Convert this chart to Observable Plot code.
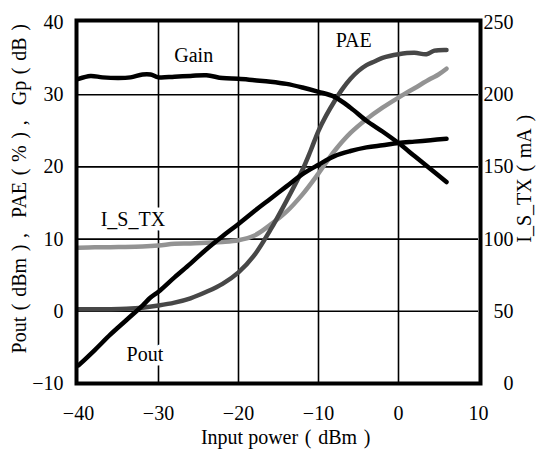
<!DOCTYPE html>
<html><head><meta charset="utf-8">
<script src="https://cdn.jsdelivr.net/npm/d3@7"></script>
<script src="https://cdn.jsdelivr.net/npm/@observablehq/plot@0.6"></script>
<style>
body{margin:0;background:#fff}
svg, svg text {font-family: "Liberation Serif", "Times New Roman", serif !important;}
</style>
</head><body><div id="chart"></div>
<script>
// ---- data ----
const xTicks = [-40, -30, -20, -10, 0, 10];
const leftTicks = [-10, 0, 10, 20, 30, 40];
const rightTicks = [0, 50, 100, 150, 200, 250];

const gainX = [-40,-38.5,-37,-35,-33.5,-32,-31,-30,-28,-26,-24,-22,-20,-18,-16,-14,-12,-10,-8,-6,-4,-2,0,2,4,6];
const gainDb = [32.2,32.6,32.4,32.3,32.4,32.8,32.8,32.4,32.5,32.6,32.7,32.3,32.2,32.0,31.8,31.5,31.0,30.4,29.7,28.2,26.4,24.9,23.3,21.5,19.7,17.9];

const poutX = [-40,-38,-36,-34,-32,-31,-30,-28,-26,-24,-22,-20,-18,-16,-14,-12,-10,-8,-6,-4,-2,0,2,4,6];
const poutDbm = [-7.5,-5.4,-3.2,-1.2,0.8,1.9,2.7,4.7,6.6,8.6,10.4,12.1,13.9,15.6,17.3,19.0,20.3,21.5,22.2,22.7,23.0,23.3,23.5,23.7,23.9];

const paeX = [-40,-36,-34,-32,-30,-28,-26,-24,-22,-20,-18,-16,-14,-12,-11,-10,-9,-8,-7,-6,-5,-4,-3,-2,0,2,3.5,4.5,6];
const paePct = [0.3,0.3,0.35,0.5,0.8,1.2,1.8,2.7,3.8,5.4,7.8,11.3,15.3,19.6,22.2,25.0,27.2,29.1,30.8,32.2,33.3,34.1,34.6,35.1,35.6,35.8,35.6,36.1,36.2];

const istxX = [-40,-38,-35,-32,-30,-28,-26,-24,-22,-20,-18,-16,-14,-12,-10,-8,-6,-4,-2,0,2,4,5,6];
const istxMa = [94,94.3,94.5,94.8,95.5,96.8,97,97.5,98,99.2,102.5,110,119,131,145.5,161,173.5,183,191,198,204.5,211,214,218];

const seriesLabels = ["Gain", "PAE", "I_S_TX", "Pout"];
const labelX = [-25.6, -5.6, -33.2, -31.7];
const labelY = [35.4, 37.5, 12.75, -5.95];

// right axis (mA) mapped onto left axis units
const toLeft = mA => mA / 5 - 10;
const toRight = v => (v + 10) * 5;

const S = "\u2004";
const P = t => S + "(" + S + t + S + ")" + S;
const xTitle = "Input power" + P("dBm");
const yTitle = "Pout" + P("dBm") + ",\u2002\u00a0" + "PAE" + P("%") + ",\u2002\u00a0" + "Gp" + P("dB");
const y2Title = "I_S_TX" + P("mA");

const FONT = "Liberation Serif, Times New Roman, serif";
const rows = (xs, ys) => xs.map((x, i) => ({x, y: ys[i]}));
const lineOpts = {x: "x", y: "y", strokeWidth: 4.5, strokeLinecap: "round", strokeLinejoin: "round", curve: "catmull-rom"};

const chart = Plot.plot({
  width: 551,
  height: 457,
  marginLeft: 78,
  marginRight: 73,
  marginTop: 22,
  marginBottom: 74,
  style: {fontFamily: FONT, fontSize: "20px", background: "#fff", color: "#000"},
  x: {domain: [-40, 10]},
  y: {domain: [-10, 40]},
  marks: [
    Plot.gridX([-30, -20, -10, 0], {stroke: "#000", strokeOpacity: 1, strokeWidth: 1.6}),
    Plot.gridY([0, 10, 20, 30], {stroke: "#000", strokeOpacity: 1, strokeWidth: 1.6}),
    Plot.text(seriesLabels.map((t, i) => ({t, x: labelX[i], y: labelY[i]})),
      {x: "x", y: "y", text: "t", fontSize: 20, fontFamily: FONT, fill: "#000", stroke: "#fff", strokeWidth: 9, paintOrder: "stroke"}),
    Plot.line(rows(istxX, istxMa.map(toLeft)), {...lineOpts, stroke: "#939393"}),
    Plot.line(rows(paeX, paePct), {...lineOpts, stroke: "#474747"}),
    Plot.line(rows(gainX, gainDb), {...lineOpts, stroke: "#000"}),
    Plot.line(rows(poutX, poutDbm), {...lineOpts, stroke: "#000"}),
    Plot.axisX({ticks: xTicks, tickSize: 0, tickPadding: 22, label: null, fontSize: 20, fontFamily: FONT}),
    Plot.axisY({ticks: leftTicks, tickSize: 0, tickPadding: 15, label: null, fontSize: 20, fontFamily: FONT}),
    Plot.axisY({anchor: "right", ticks: rightTicks.map(toLeft), tickFormat: d => String(Math.round(toRight(d))),
      tickSize: 0, tickPadding: 35, textAnchor: "end", label: null, fontSize: 20, fontFamily: FONT}),
    Plot.text([xTitle], {frameAnchor: "bottom", dy: 60.6, dx: 10.5, fontSize: 20, fontFamily: FONT}),
    Plot.text([yTitle], {frameAnchor: "left", textAnchor: "middle", rotate: -90, dx: -59.4, dy: -17.5, fontSize: 20, fontFamily: FONT}),
    Plot.text([y2Title], {frameAnchor: "right", textAnchor: "middle", rotate: -90, dx: 45.6, dy: -27.5, fontSize: 20, fontFamily: FONT}),
    Plot.frame({stroke: "#000", strokeWidth: 4, insetLeft: -2, insetRight: -2, insetTop: -2, insetBottom: 0})
  ]
});
document.getElementById("chart").appendChild(chart);
</script>
</body></html>
